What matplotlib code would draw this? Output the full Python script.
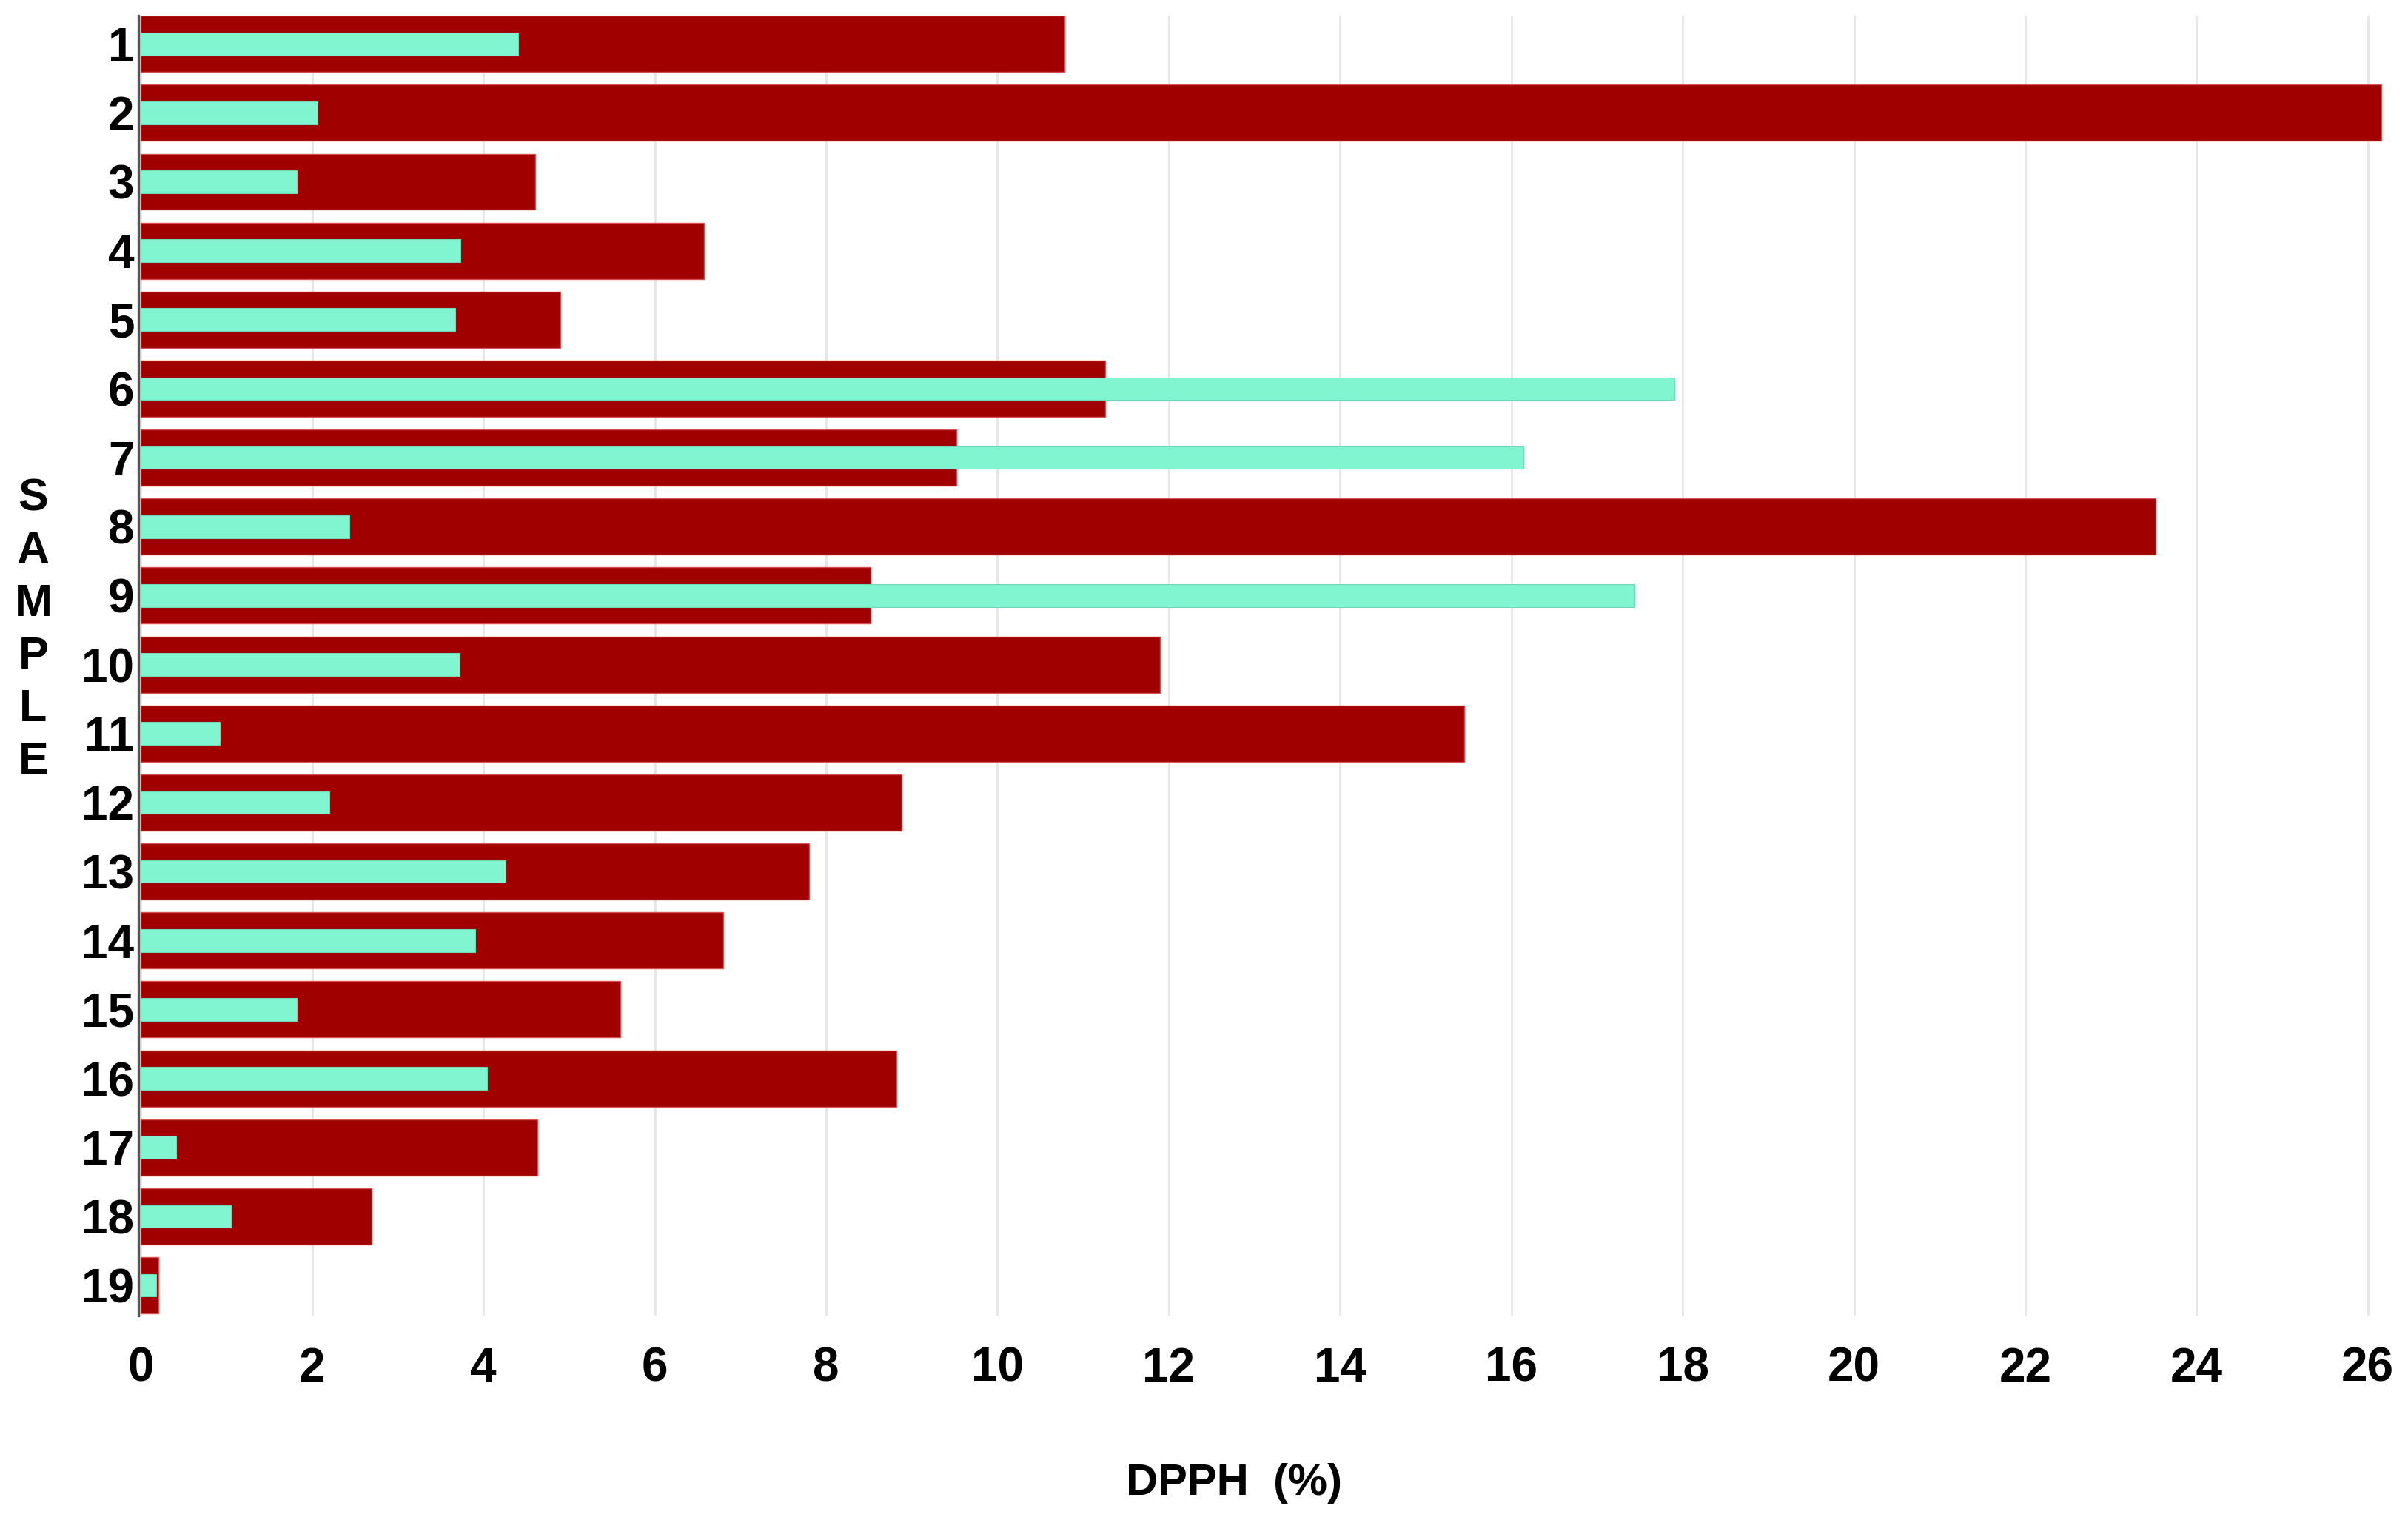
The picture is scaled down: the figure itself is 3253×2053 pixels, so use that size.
import matplotlib
matplotlib.use('Agg')
import matplotlib.pyplot as plt
import numpy as np

###
# Data (DPPH %)

samples = np.arange(1, 20)
red_vals = [10.78, 26.16, 4.60, 6.57, 4.90, 11.26, 9.52, 23.52, 8.52, 11.90,
            15.45, 8.88, 7.80, 6.80, 5.60, 8.82, 4.63, 2.69, 0.20]
cyan_vals = [4.40, 2.06, 1.82, 3.73, 3.67, 17.90, 16.14, 2.43, 17.44, 3.72,
             0.92, 2.20, 4.26, 3.90, 1.82, 4.04, 0.41, 1.05, 0.18]
xticks = list(range(0, 27, 2))

###
# Plot

plt.rcParams['font.family'] = ['Liberation Sans', 'DejaVu Sans']
plt.rcParams['font.weight'] = 'bold'

fig = plt.figure(figsize=(32.53, 20.53), dpi=100)
ax = fig.add_axes([187 / 3253, 0.1344, 0.9365, 0.8554])

ax.barh(samples, red_vals, height=0.815, color='#a00000',
        edgecolor='#d85050', linewidth=1.0, zorder=2)
ax.barh(samples, cyan_vals, height=0.33, color='#80f5d0',
        edgecolor='#6fd8b6', linewidth=0.8, zorder=3)

ax.set_xlim(-0.03, 26.3)
ax.set_ylim(19.44, 0.59)

# grid
ax.set_xticks(xticks)
ax.grid(True, axis='x', color='#e6e6e6', linewidth=2, zorder=0)
ax.set_axisbelow(True)

ax.set_yticks(samples)
ax.set_yticklabels([str(s) for s in samples])
ax.tick_params(axis='y', length=0, pad=4, labelsize=46)
ax.tick_params(axis='x', length=0, pad=30, labelsize=46)
for lab in ax.get_xticklabels() + ax.get_yticklabels():
    lab.set_fontweight('bold')

for side in ['top', 'right', 'bottom']:
    ax.spines[side].set_visible(False)
ax.spines['left'].set_color('#555555')
ax.spines['left'].set_linewidth(2.4)
ax.spines['left'].set_zorder(4)

# axis labels
fig.text(1667 / 3253, 1 - 2019 / 2053, 'DPPH  (%)', ha='center', va='baseline',
         fontsize=43, fontweight='bold')
fig.text(45 / 3253, 1 - 852 / 2053, 'S\nA\nM\nP\nL\nE', ha='center', va='center',
         fontsize=44, fontweight='bold', linespacing=1.32)

fig.savefig('out.png', dpi=100)
